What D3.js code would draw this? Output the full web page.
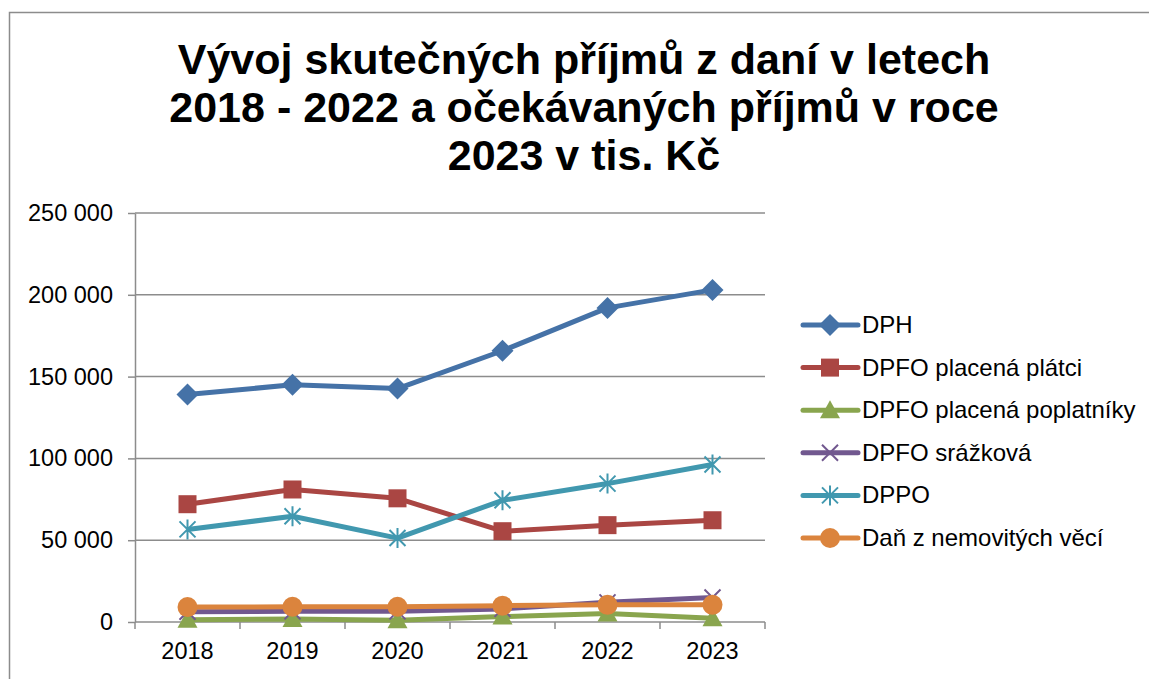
<!DOCTYPE html>
<head>
  <meta charset="utf-8">
  <script src="https://d3js.org/d3.v7.min.js"></script>
  <style>
    body { margin:0; background:#fff; }
    svg { display:block; font-family: "Liberation Sans", Arial, sans-serif; }
    .grid line { stroke:#8c8c8c; stroke-width:1.5; }
    .axis path, .axis line { stroke:#8c8c8c; stroke-width:1.5; }
    .axis text { font-size:23.5px; fill:#000; }
    .legend text { font-size:24px; fill:#000; }
  </style>
</head>
<body>
<script>
  var width = 1149, height = 679;

  var years = ["2018", "2019", "2020", "2021", "2022", "2023"];
  var yTicks = [0, 50000, 100000, 150000, 200000, 250000];
  var titleLines = ["Vývoj skutečných příjmů z daní v letech",
                    "2018 - 2022 a očekávaných příjmů v roce",
                    "2023 v tis. Kč"];

  var dph        = [139000, 145000, 142700, 165800, 192000, 203000];
  var dpfoPlatci = [72000, 81000, 75600, 55500, 59200, 62200];
  var dpfoPopl   = [1300, 1900, 1000, 3300, 5200, 2300];
  var dpfoSrazka = [6300, 6500, 6500, 8000, 12000, 15000];
  var dppo       = [56600, 64600, 51300, 74400, 84600, 96300];
  var danNemov   = [9100, 9300, 9300, 10000, 10500, 10500];

  var seriesNames = ["DPH", "DPFO placená plátci", "DPFO placená poplatníky",
                     "DPFO srážková", "DPPO", "Daň z nemovitých věcí"];
  var seriesValues = [dph, dpfoPlatci, dpfoPopl, dpfoSrazka, dppo, danNemov];
  var colors = ["#4572a7", "#aa4643", "#89a54e", "#71588f", "#4198af", "#db843d"];
  var markers = ["diamond", "square", "triangle", "x", "star", "circle"];

  var svg = d3.select("body").append("svg")
    .attr("width", width).attr("height", height);

  // outer frame
  svg.append("rect")
    .attr("x", 9.5).attr("y", 12.5)
    .attr("width", width + 10).attr("height", height + 10)
    .attr("fill", "none").attr("stroke", "#8c8c8c").attr("stroke-width", 1.5);

  // title
  svg.append("text")
    .attr("text-anchor", "middle")
    .attr("font-weight", "bold")
    .attr("font-size", "43px")
    .selectAll("tspan")
    .data(titleLines)
    .enter().append("tspan")
    .attr("x", 584)
    .attr("y", function(d, i) { return 74 + i * 48; })
    .text(function(d) { return d; });

  var x = d3.scaleBand().domain(years).range([135, 765]).padding(0);
  var y = d3.scaleLinear().domain([0, 250000]).range([622, 213]);
  var cx = function(i) { return x(years[i]) + x.bandwidth() / 2; };

  // gridlines
  svg.append("g").attr("class", "grid")
    .selectAll("line")
    .data(yTicks.slice(1))
    .enter().append("line")
    .attr("x1", 135).attr("x2", 765)
    .attr("y1", function(d) { return y(d); })
    .attr("y2", function(d) { return y(d); });

  var fmt = function(d) { return d3.format(",")(d).replace(/,/g, " "); };

  svg.append("g").attr("class", "axis")
    .attr("transform", "translate(135,0)")
    .call(d3.axisLeft(y).tickValues(yTicks).tickFormat(fmt).tickSize(7).tickSizeOuter(0).tickPadding(15));

  // x axis with ticks between categories
  var xAxis = svg.append("g").attr("class", "axis")
    .attr("transform", "translate(0,622)");
  xAxis.append("line").attr("x1", 135).attr("x2", 765);
  xAxis.selectAll("line.tick")
    .data(years.concat(["end"]))
    .enter().append("line").attr("class", "tick")
    .attr("x1", function(d, i) { return 135 + i * x.bandwidth(); })
    .attr("x2", function(d, i) { return 135 + i * x.bandwidth(); })
    .attr("y1", 0).attr("y2", 7);
  xAxis.selectAll("text")
    .data(years)
    .enter().append("text")
    .attr("x", function(d, i) { return cx(i); })
    .attr("y", 37)
    .attr("text-anchor", "middle")
    .text(function(d) { return d; });

  function drawMarker(g, type, color) {
    if (type == "diamond") {
      g.append("path").attr("d", "M0,-11L11,0L0,11L-11,0Z").attr("fill", color);
    } else if (type == "square") {
      g.append("rect").attr("x", -9).attr("y", -9).attr("width", 18).attr("height", 18).attr("fill", color);
    } else if (type == "triangle") {
      g.append("path").attr("d", "M0,-10L10,8L-10,8Z").attr("fill", color);
    } else if (type == "circle") {
      g.append("circle").attr("r", 10).attr("fill", color);
    } else if (type == "x") {
      g.append("path").attr("d", "M-8,-8L8,8M-8,8L8,-8")
        .attr("stroke", color).attr("stroke-width", 2).attr("fill", "none");
    } else if (type == "star") {
      g.append("path").attr("d", "M-8,-8L8,8M-8,8L8,-8M0,-10L0,10")
        .attr("stroke", color).attr("stroke-width", 2).attr("fill", "none");
    }
  }

  var line = d3.line()
    .x(function(d, i) { return cx(i); })
    .y(function(d) { return y(d); });

  seriesValues.forEach(function(vals, s) {
    var g = svg.append("g");
    g.append("path")
      .attr("d", line(vals))
      .attr("fill", "none")
      .attr("stroke", colors[s])
      .attr("stroke-width", 5)
      .attr("stroke-linejoin", "round");
    vals.forEach(function(v, i) {
      var m = g.append("g").attr("transform", "translate(" + cx(i) + "," + y(v) + ")");
      drawMarker(m, markers[s], colors[s]);
    });
  });

  // legend
  var legend = svg.append("g").attr("class", "legend");
  seriesNames.forEach(function(name, s) {
    var ly = 325 + s * 42.6;
    var row = legend.append("g").attr("transform", "translate(0," + ly + ")");
    row.append("line")
      .attr("x1", 803).attr("x2", 858)
      .attr("stroke", colors[s]).attr("stroke-width", 5).attr("stroke-linecap", "round");
    var m = row.append("g").attr("transform", "translate(830,0)");
    drawMarker(m, markers[s], colors[s]);
    row.append("text")
      .attr("x", 862).attr("y", 8)
      .text(name);
  });
</script>
</body>
